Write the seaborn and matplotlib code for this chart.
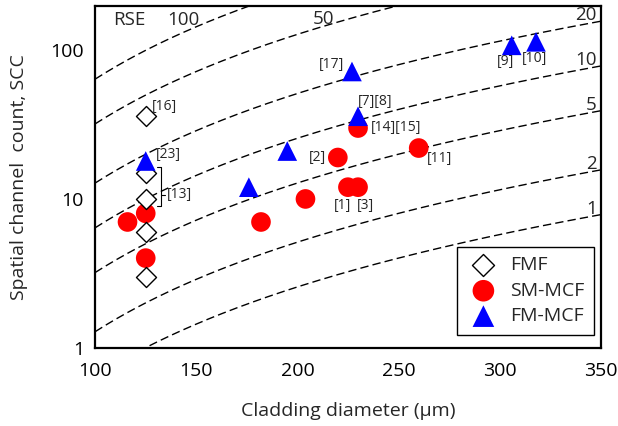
import numpy as np
import pandas as pd
import matplotlib
matplotlib.use("Agg")
import matplotlib.pyplot as plt
from matplotlib.lines import Line2D
from matplotlib.transforms import IdentityTransform, blended_transform_factory
import seaborn as sns

# Fibre data: cladding diameter (um) and spatial channel count
fmf_diameter = [125, 125, 125, 125, 125]
fmf_scc = [36, 15, 10, 6, 3]

sm_mcf_diameter = [116, 125, 125, 182, 204, 220, 225, 230, 230, 260]
sm_mcf_scc = [7, 8, 4, 7, 10, 19, 12, 12, 30, 22]

fm_mcf_diameter = [125, 176, 195, 227, 230, 306, 318]
fm_mcf_scc = [18, 12, 21, 72, 36, 108, 114]

# Relative spatial efficiency contours, normalised to a 125 um single-core fibre
rse_levels = [1, 2, 5, 10, 20, 50, 100]
ref_diameter = 125

x_ticks = [100, 150, 200, 250, 300, 350]
y_ticks = [1, 10, 100]
y_tick_labels = ["1", "10", "100"]

# Reference tags: (text, diameter, scc, dx px, dy px, ha)
ref_tags = [
    ("[16]", 125, 36, 6, 10, "left"),
    ("[23]", 125, 18, 10, 7, "left"),
    ("[17]", 227, 72, -8, 7, "right"),
    ("[7][8]", 230, 36, 0, 15, "left"),
    ("[14][15]", 230, 30, 13, 1, "left"),
    ("[2]", 220, 19, -12, 0, "right"),
    ("[1]", 225, 12, -5, -18, "center"),
    ("[3]", 230, 12, 7, -18, "center"),
    ("[11]", 260, 22, 8, -10, "left"),
    ("[9]", 306, 108, -6, -16, "center"),
    ("[10]", 318, 114, -1, -17, "center"),
]

rows = []
for name, ds, ss in [("FMF", fmf_diameter, fmf_scc),
                     ("SM-MCF", sm_mcf_diameter, sm_mcf_scc),
                     ("FM-MCF", fm_mcf_diameter, fm_mcf_scc)]:
    for d, s in zip(ds, ss):
        rows.append({"diameter": d, "scc": s, "type": name})
df = pd.DataFrame(rows)

sns.set_style("white")
plt.rcParams["font.family"] = ["Open Sans", "DejaVu Sans"]

DPI = 100
fig, ax = plt.subplots(figsize=(6.18, 4.26), dpi=DPI)
fig.subplots_adjust(left=0.154, right=0.972, bottom=0.184, top=0.987)

ax.set_yscale("log")
ax.set_xlim(100, 350)
ax.set_ylim(1, 200)

# RSE contour lines
d_grid = np.linspace(100, 350, 300)
for r in rse_levels:
    ax.plot(d_grid, r * (d_grid / ref_diameter) ** 2, color="black",
            lw=1.0, ls=(0, (6.0, 3.0)), zorder=1)

styles = {
    "FMF": dict(marker="D", s=104, color="white", edgecolor="black", linewidth=1.0, zorder=3),
    "SM-MCF": dict(marker="o", s=200, color="#ff0000", edgecolor="none", zorder=2),
    "FM-MCF": dict(marker="^", s=200, color="#0000ff", edgecolor="none", zorder=4),
}
for name in ["FMF", "SM-MCF", "FM-MCF"]:
    sns.scatterplot(data=df[df["type"] == name], x="diameter", y="scc",
                    ax=ax, label=name, legend=False, **styles[name])

ax.set_xticks(x_ticks)
ax.set_yticks(y_ticks)
ax.set_yticklabels(y_tick_labels)
ax.minorticks_off()
ax.tick_params(axis="both", which="major", direction="in", length=6, width=1.5,
               labelsize=14, pad=8, colors="black")
ax.tick_params(axis="x", pad=10)
for sp in ax.spines.values():
    sp.set_visible(True)
    sp.set_linewidth(1.6)
    sp.set_color("black")

ax.set_xlabel("Cladding diameter (\u03bcm)", fontsize=14, labelpad=16)
ax.set_ylabel("Spatial channel  count, SCC", fontsize=14, labelpad=16)

# Reference tags next to the markers
px = 72.0 / DPI
for text, d, s, dx, dy, ha in ref_tags:
    ax.annotate(text, (d, s), xytext=(dx * px, dy * px), textcoords="offset points",
                ha=ha, va="center", fontsize=10, color="#262626", zorder=5)

# RSE value labels
top_trans = blended_transform_factory(ax.transData, ax.transAxes)
ax.text(116.8, 0.958, "RSE", transform=top_trans, ha="center", va="center", fontsize=13.5)
ax.text(143.7, 0.958, "100", transform=top_trans, ha="center", va="center", fontsize=13.5)
ax.text(213.0, 0.960, "50", transform=top_trans, ha="center", va="center", fontsize=13.5)
for r in [20, 10, 5, 2, 1]:
    ax.annotate(str(r), (350, r * (350 / ref_diameter) ** 2), xytext=(-4 * px, 1 * px),
                textcoords="offset points", ha="right", va="baseline", fontsize=13.5)

# Bracket grouping the [13] fibres
p_top = ax.transData.transform((125, 15))
p_bot = ax.transData.transform((125, 10))
bx = p_top[0] + 15
yt = p_top[1] + 6
yb = p_bot[1] - 7
ym = p_bot[1] + 4
for xs, ys in [([bx - 4, bx, bx, bx - 4], [yt, yt, yb, yb]), ([bx, bx + 4], [ym, ym])]:
    fig.add_artist(Line2D(xs, ys, transform=IdentityTransform(), color="black", lw=0.8))
fig.text((bx + 6) / (6.18 * DPI), ym / (4.26 * DPI), "[13]", ha="left", va="center",
         fontsize=10, color="#262626")

leg = ax.legend(loc="lower right", bbox_to_anchor=(0.986, 0.037), fontsize=14,
                frameon=True, fancybox=False, framealpha=1, edgecolor="black",
                markerscale=1.1, handletextpad=0.5, labelspacing=0.38, borderpad=0.5,
                handlelength=1.7, borderaxespad=0)
leg.get_frame().set_linewidth(1.0)

fig.savefig("out.png", dpi=DPI)
